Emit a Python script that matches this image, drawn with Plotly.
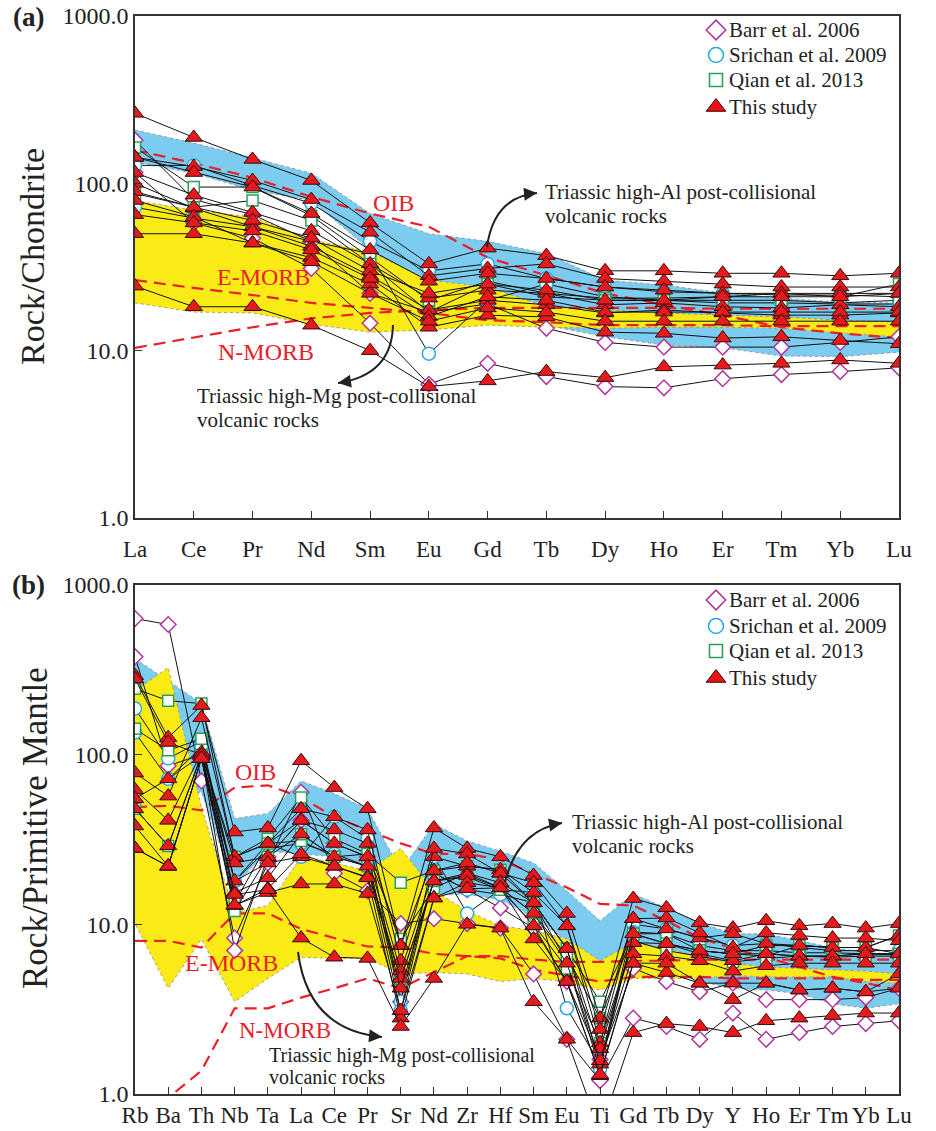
import plotly.graph_objects as go

# ---------------- data: panel (a) chondrite-normalised REE ----------------
ree = ["La", "Ce", "Pr", "Nd", "Sm", "Eu", "Gd", "Tb", "Dy", "Ho", "Er", "Tm", "Yb", "Lu"]

high_al_a_upper = [208, 174, 142, 115, 66, 50, 45, 38, 26.4, 24.7, 22.1, 20.6, 19.5, 19.3]
high_al_a_lower = [134, 115, 91, 79, 40, 24, 23.7, 14.2, 12.1, 10.8, 10.4, 9.3, 9.2, 9.8]
high_mg_a_upper = [79, 69, 63, 46, 39, 26.4, 24, 18.3, 17.5, 16.8, 16.3, 15.9, 15.2, 14.8]
high_mg_a_lower = [19.3, 17.0, 16.8, 14.4, 12.9, 13.3, 14.2, 13.8, 13.6, 13.8, 13.8, 13.6, 12.7, 12.1]

oib_a = [158, 132, 108, 83, 66, 55, 36, 28, 22, 18.8, 16.3, 13.8, 12.7, 11.9]
emorb_a = [26.4, 23.7, 21.5, 19.3, 18.0, 16.8, 15.2, 14.8, 14.2, 14.2, 14.2, 14.0, 14.0, 14.0]
nmorb_a = [10.4, 12.0, 13.8, 15.6, 16.8, 17.5, 18.0, 18.0, 18.0, 18.0, 17.8, 17.8, 17.8, 17.8]

barr_a = [
    [181, 80, 65, 45, 22, 17, 19, 13.6, 11.2, 10.5, 10.5, 10.5, 11.2, 12.1],
    [116, 58, 47, 31, 14.6, 6.3, 8.4, 7.0, 6.1, 6.0, 6.8, 7.2, 7.5, 7.9],
]
srichan_a = [
    [128, 128, 97, 76, 45, 30, 33, 27, 24, 22.5, 22, 21.5, 21.5, 21],
    [72, 62, 55, 45, 38, 9.6, 20, 25, 21, 20, 19.3, 19.3, 19, 19],
]
qian_a = [
    [164, 95, 95, 64, 36, 20, 26, 22, 20.6, 20.6, 21, 22, 21, 25],
    [87, 72, 79, 60, 33, 17, 25, 21, 20, 20, 20, 20, 19.3, 20],
]
study_a = [
    [262, 188, 139, 104, 58, 33, 41, 37, 30, 30, 29, 29, 28, 29],
    [143, 126, 104, 80, 51, 28, 31, 33, 27, 26, 25, 24, 24, 24],
    [143, 116, 95, 66, 40, 26, 29, 27, 24, 23, 22, 22, 22, 22],
    [116, 85, 67, 52, 33, 20.6, 23, 22, 18.8, 19.3, 18.3, 18, 18.8, 18.3],
    [100, 71, 55, 42, 28, 17.5, 20, 18.8, 16.8, 17.5, 16.8, 16.3, 16.3, 16.8],
    [89, 72, 60, 47, 30, 22, 25, 23, 20, 20, 21, 21, 21, 22],
    [79, 63, 44, 36, 25, 13.8, 16.3, 15.9, 12.9, 12.7, 11.9, 12.1, 11.5, 11.0],
    [65, 58, 52, 40, 27, 16, 21, 20, 17, 17, 17, 17, 17, 17],
    [50, 50, 44, 34, 22, 15, 18, 17, 15, 15, 15, 15, 15, 15],
    [24.3, 18.3, 18.3, 14.2, 10, 6.1, 6.6, 7.5, 6.9, 8.0, 8.2, 8.4, 8.8, 8.4],
]

# ---------------- data: panel (b) primitive-mantle-normalised ----------------
spider = ["Rb", "Ba", "Th", "Nb", "Ta", "La", "Ce", "Pr", "Sr", "Nd", "Zr", "Hf",
          "Sm", "Eu", "Ti", "Gd", "Tb", "Dy", "Y", "Ho", "Er", "Tm", "Yb", "Lu"]

high_al_b_upper = [368, 273, 200, 42, 45, 70, 59, 48, 20.7, 39, 31, 27, 23, 15.8, 10.5, 15.1, 12.5, 10.2, 8.8, 8.8, 8.0, 7.3, 6.8, 6.7]
high_al_b_lower = [100, 60, 60, 17, 27, 26, 25, 22, 6, 15, 15, 14, 11, 8, 6, 7.5, 6, 4.6, 4.2, 4.1, 3.9, 3.4, 3.2, 3.4]
high_mg_b_upper = [238, 326, 49, 11.7, 12.9, 25, 23, 20.7, 28, 15.8, 12.0, 9.8, 9.2, 8.2, 6.1, 7.8, 7.2, 6.4, 5.9, 5.6, 5.5, 5.4, 5.3, 5.1]
high_mg_b_lower = [10.1, 4.2, 8.2, 3.5, 4.8, 6.4, 6.3, 6.3, 5.1, 5.2, 5.1, 4.6, 4.8, 4.6, 4.1, 4.8, 4.8, 4.8, 5.0, 4.9, 4.9, 4.9, 4.6, 4.5]

oib_b = [49, 50, 47, 64, 66, 56, 43, 36, 30, 26, 26, 24, 20, 16.5, 13.2, 12.9, 10.5, 8.3, 7.2, 6.4, 5.6, 4.9, 4.5, 4.1]
emorb_b = [8.0, 8.0, 7.3, 11.6, 11.6, 9.4, 8.3, 7.4, 7.3, 6.7, 6.5, 6.3, 5.4, 5.0, 4.6, 4.9, 4.9, 4.9, 4.8, 4.8, 4.8, 4.8, 4.7, 4.7]
nmorb_b = [0.6, 0.95, 1.37, 3.2, 3.2, 3.7, 4.2, 4.8, 4.2, 5.2, 6.5, 6.5, 6.2, 6.0, 6.0, 6.1, 6.1, 6.2, 6.2, 6.2, 6.2, 6.2, 6.2, 6.2]

barr_b = [
    [634, 585, 70, 8.3, 23, 60, 20, 15.8, 10.1, 10.8, 10.1, 9.5, 5.1, 2.1, 1.2, 2.8, 2.5, 2.1, 3.0, 2.1, 2.3, 2.5, 2.6, 2.7],
    [378, 86, 100, 7.0, 25, 41, 30, 25, 3.5, 20, 16, 12.5, 9.5, 4.6, 1.6, 5.5, 4.6, 4.0, 4.5, 3.6, 3.6, 3.6, 3.7, 4.2],
]
srichan_b = [
    [187, 95, 120, 18, 30, 25, 43, 32, 3.5, 25, 11.6, 16, 15.4, 3.2, 1.5, 10, 9.4, 8.3, 7.5, 7.7, 7.3, 7.0, 7.0, 7.0],
    [135, 72, 110, 18, 28, 30, 26, 22, 3.1, 20, 16, 15, 13.4, 6, 1.4, 9, 8.8, 7.5, 7.0, 7.0, 6.8, 6.8, 6.7, 6.6],
]
qian_b = [
    [245, 208, 200, 25, 32, 56, 32, 26, 17.6, 20.7, 22, 21, 13.4, 7.2, 3.5, 8.8, 8.8, 7.0, 6.7, 7.5, 7.5, 7.3, 7.3, 8.6],
    [142, 106, 124, 13.4, 30, 31, 25, 26, 8.2, 16.4, 20, 16.4, 11.6, 6.5, 2.8, 8.8, 7.7, 7.0, 6.7, 6.5, 7.5, 7.3, 7.3, 6.7],
    [48, 29, 100, 12, 25, 34, 25, 22, 4.8, 18, 19, 16, 10, 5.5, 2.0, 8.0, 7.0, 6.5, 6.0, 6.3, 6.5, 6.4, 6.5, 6.5],
]
study_b = [
    [292, 126, 195, 35, 37, 92, 64, 48, 7.5, 37, 28, 25, 19.4, 11.6, 2.8, 14.2, 12.5, 10.2, 9.5, 10.5, 9.8, 10.1, 9.5, 10.1],
    [280, 118, 100, 25, 30, 41, 36, 30, 7.5, 25, 22, 21, 15.4, 9.8, 2.0, 10.8, 9.4, 8.3, 8.8, 7.7, 7.5, 7.3, 7.3, 8.6],
    [78, 57, 165, 25, 30, 48, 43, 36, 6.1, 28, 26, 20, 17.6, 9.8, 2.4, 10.8, 10.9, 8.9, 7.3, 8.9, 8.6, 8.3, 8.3, 8.0],
    [62, 41, 103, 23, 25, 41, 30, 25, 5.3, 20.7, 23, 20, 13.4, 7.2, 1.85, 7.8, 7.7, 6.7, 6.1, 6.7, 6.5, 6.5, 6.7, 6.7],
    [55, 72, 99, 18, 23, 25, 22, 19, 4.8, 18, 20, 17.6, 13.4, 7.2, 1.5, 8.8, 7.7, 7.0, 6.7, 6.7, 6.5, 6.5, 6.7, 6.7],
    [48, 29, 99, 15.4, 18.8, 34, 25, 22, 4.2, 18, 19.4, 16.4, 11.6, 5.9, 1.57, 6.7, 6.5, 6.1, 5.3, 5.7, 5.9, 5.9, 5.9, 5.9],
    [38, 22, 95, 12.9, 16.2, 26, 22, 18.8, 2.8, 14.3, 17.6, 16.4, 9.8, 4.6, 1.28, 5.9, 5.2, 4.5, 3.6, 4.5, 4.1, 4.2, 4.0, 5.1],
    [28, 22, 95, 13, 15.4, 17.3, 17.3, 15.2, 3.1, 14.3, 16.2, 16.4, 8.2, 4.6, 1.3, 5.9, 5.9, 4.5, 4.5, 4.5, 4.1, 4.2, 4.0, 4.2],
    [28, 22, 95, 15, 16, 8.3, 6.4, 6.3, 2.5, 4.8, 10, 9.5, 3.5, 2.1, 0.6, 2.3, 2.6, 2.5, 2.3, 2.7, 2.8, 2.9, 3.0, 3.0],
]

legend_keys = ["barr", "srichan", "qian", "study"]
legend_labels = ["Barr et al. 2006", "Srichan et al. 2009", "Qian et al. 2013", "This study"]

# ---------------- layout helpers ----------------
W, H = 936, 1131
ML, MR, MT, MB = 135, 37, 16, 37
PW = W - ML - MR
PH = H - MT - MB


def px(x):
    return (x - ML) / PW


def py(y):
    return (H - MB - y) / PH


SERIF = "Liberation Serif, Times New Roman, Times, serif"
BLUE_FIELD = "rgb(124,204,240)"
YELLOW_FIELD = "rgb(250,235,22)"
RED = "#e8202a"
INK = "#222222"

styles = {
    "barr": dict(symbol="diamond", size=12, color="white", line=dict(color="#b0359e", width=1.5)),
    "srichan": dict(symbol="circle", size=13, color="white", line=dict(color="#27a9e1", width=1.5)),
    "qian": dict(symbol="square", size=11, color="white", line=dict(color="#2aa15a", width=1.5)),
    "study": dict(symbol="triangle-up", size=15, color="#e41a1c", line=dict(color="#3a0a0a", width=1)),
}
legend_styles = {
    "barr": dict(symbol="diamond", size=15, color="white", line=dict(color="#b0359e", width=1.6)),
    "srichan": dict(symbol="circle", size=15, color="white", line=dict(color="#27a9e1", width=1.6)),
    "qian": dict(symbol="square", size=13, color="white", line=dict(color="#2aa15a", width=1.6)),
    "study": dict(symbol="triangle-up", size=17, color="#ee1111", line=dict(color="#3a0a0a", width=1)),
}

fig = go.Figure()


def add_field(xa, ya, cats, upper, lower, color):
    fig.add_trace(go.Scatter(
        x=cats + cats[::-1], y=upper + lower[::-1], fill="toself", fillcolor=color,
        mode="lines", line=dict(color="#8c8c8c", width=0.8, dash="dot"),
        xaxis=xa, yaxis=ya, showlegend=False, hoverinfo="skip"))


def add_ref(xa, ya, cats, vals):
    fig.add_trace(go.Scatter(
        x=cats, y=vals, mode="lines", line=dict(color=RED, width=2.2, dash="12px,7px"),
        xaxis=xa, yaxis=ya, showlegend=False, hoverinfo="skip"))


def add_samples(xa, ya, cats, rows, key):
    for r in rows:
        fig.add_trace(go.Scatter(
            x=cats, y=r, mode="lines+markers", line=dict(color="#111111", width=1),
            marker=styles[key], xaxis=xa, yaxis=ya, showlegend=False))


for xa, ya, cats, fa, fb, fc, fd, refs, groups in [
    ("x", "y", ree, high_al_a_upper, high_al_a_lower, high_mg_a_upper, high_mg_a_lower,
     (oib_a, emorb_a, nmorb_a), (barr_a, srichan_a, qian_a, study_a)),
    ("x2", "y2", spider, high_al_b_upper, high_al_b_lower, high_mg_b_upper, high_mg_b_lower,
     (oib_b, emorb_b, nmorb_b), (barr_b, srichan_b, qian_b, study_b)),
]:
    add_field(xa, ya, cats, fa, fb, BLUE_FIELD)
    add_field(xa, ya, cats, fc, fd, YELLOW_FIELD)
    for ref in refs:
        add_ref(xa, ya, cats, ref)
    for key, rows in zip(legend_keys, groups):
        add_samples(xa, ya, cats, rows, key)

ann = []


def text(x, y, s, size=21, color=INK, xanchor="left", bold=False, angle=0):
    ann.append(dict(x=px(x), y=py(y), xref="paper", yref="paper", text=(f"<b>{s}</b>" if bold else s),
                    showarrow=False, xanchor=xanchor, yanchor="middle", textangle=angle,
                    font=dict(family=SERIF, size=size, color=color)))


# manual legend: symbols on an overlay axis spanning the plotting area, labels as text
for rows_y in ([30, 55, 80, 107], [600, 626, 651, 678]):
    for key, label, yy in zip(legend_keys, legend_labels, rows_y):
        fig.add_trace(go.Scatter(x=[px(716)], y=[py(yy)], mode="markers", marker=legend_styles[key],
                                 xaxis="x3", yaxis="y3", showlegend=False, hoverinfo="skip",
                                 cliponaxis=False))
        text(727, yy, label, size=21)

axis_common = dict(showgrid=False, zeroline=False, showline=True, mirror=True,
                   linecolor="#333333", linewidth=1.5, ticks="inside", ticklen=7,
                   tickcolor="#333333", tickwidth=1.2, automargin=False)
xfont = dict(tickfont=dict(family=SERIF, size=23, color=INK), tickangle=0)
ytick = dict(type="log", range=[0, 3], tickvals=[1, 10, 100, 1000],
             ticktext=["1.0", "10.0", "100.0", "1000.0"],
             tickfont=dict(family=SERIF, size=24, color=INK))
hidden = dict(visible=False, range=[0, 1], domain=[0, 1], fixedrange=True)

fig.update_layout(
    width=W, height=H, margin=dict(l=ML, r=MR, t=MT, b=MB),
    paper_bgcolor="white", plot_bgcolor="rgba(0,0,0,0)",
    showlegend=False,
    xaxis=dict(domain=[0, 1], anchor="y", range=[0, len(ree) - 1], type="category",
               categoryorder="array", categoryarray=ree, ticklabelstandoff=10, **xfont, **axis_common),
    yaxis=dict(domain=[py(518), 1], anchor="x", **ytick, **axis_common),
    xaxis2=dict(domain=[0, 1], anchor="y2", range=[0, len(spider) - 1], type="category",
                categoryorder="array", categoryarray=spider, ticklabelstandoff=0, **xfont, **axis_common),
    yaxis2=dict(domain=[0, py(585)], anchor="x2", **ytick, **axis_common),
    xaxis3=dict(anchor="y3", **hidden),
    yaxis3=dict(anchor="x3", **hidden),
)

# panel labels and axis titles
text(28, 17, "(a)", size=27, xanchor="center", bold=True)
text(28, 585, "(b)", size=27, xanchor="center", bold=True)
text(33, 257, "Rock/Chondrite", size=34, xanchor="center", angle=-90)
text(35, 828, "Rock/Primitive Mantle", size=35, xanchor="center", angle=-90)

# reference labels
text(393, 203, "OIB", size=24, color=RED, xanchor="center")
text(263, 277, "E-MORB", size=24, color=RED, xanchor="center")
text(266, 352, "N-MORB", size=24, color=RED, xanchor="center")
text(255, 772, "OIB", size=24, color=RED, xanchor="center")
text(231, 963, "E-MORB", size=24, color=RED, xanchor="center")
text(285, 1030, "N-MORB", size=23, color=RED, xanchor="center")

# field labels
text(543, 192, "Triassic high-Al post-collisional")
text(543, 216, "volcanic rocks")
text(195, 396, "Triassic high-Mg post-collisional")
text(195, 420, "volcanic rocks")
text(570, 822, "Triassic high-Al post-collisional")
text(570, 846, "volcanic rocks")
text(267, 1055, "Triassic high-Mg post-collisional", size=20)
text(267, 1077, "volcanic rocks", size=20)

shapes = []
arrows = [
    ((487, 247), (494, 197), (537, 193)),
    ((393, 325), (392, 375), (338, 383)),
    ((505, 882), (518, 830), (562, 823)),
    ((298, 952), (308, 1030), (382, 1037)),
]
for (x0, y0), (cx, cy), (x1, y1) in arrows:
    shapes.append(dict(type="path", xref="paper", yref="paper",
                       path=f"M {px(x0)},{py(y0)} Q {px(cx)},{py(cy)} {px(x1)},{py(y1)}",
                       line=dict(color=INK, width=2)))
    tx, ty = x1 - cx, y1 - cy
    n = (tx * tx + ty * ty) ** 0.5
    ann.append(dict(x=px(x1), y=py(y1), xref="paper", yref="paper", text="",
                    showarrow=True, arrowhead=2, arrowsize=1.3, arrowwidth=2, arrowcolor=INK,
                    ax=-tx / n * 9, ay=-ty / n * 9, standoff=0))

fig.update_layout(annotations=ann, shapes=shapes)
fig.write_html("out.html")
